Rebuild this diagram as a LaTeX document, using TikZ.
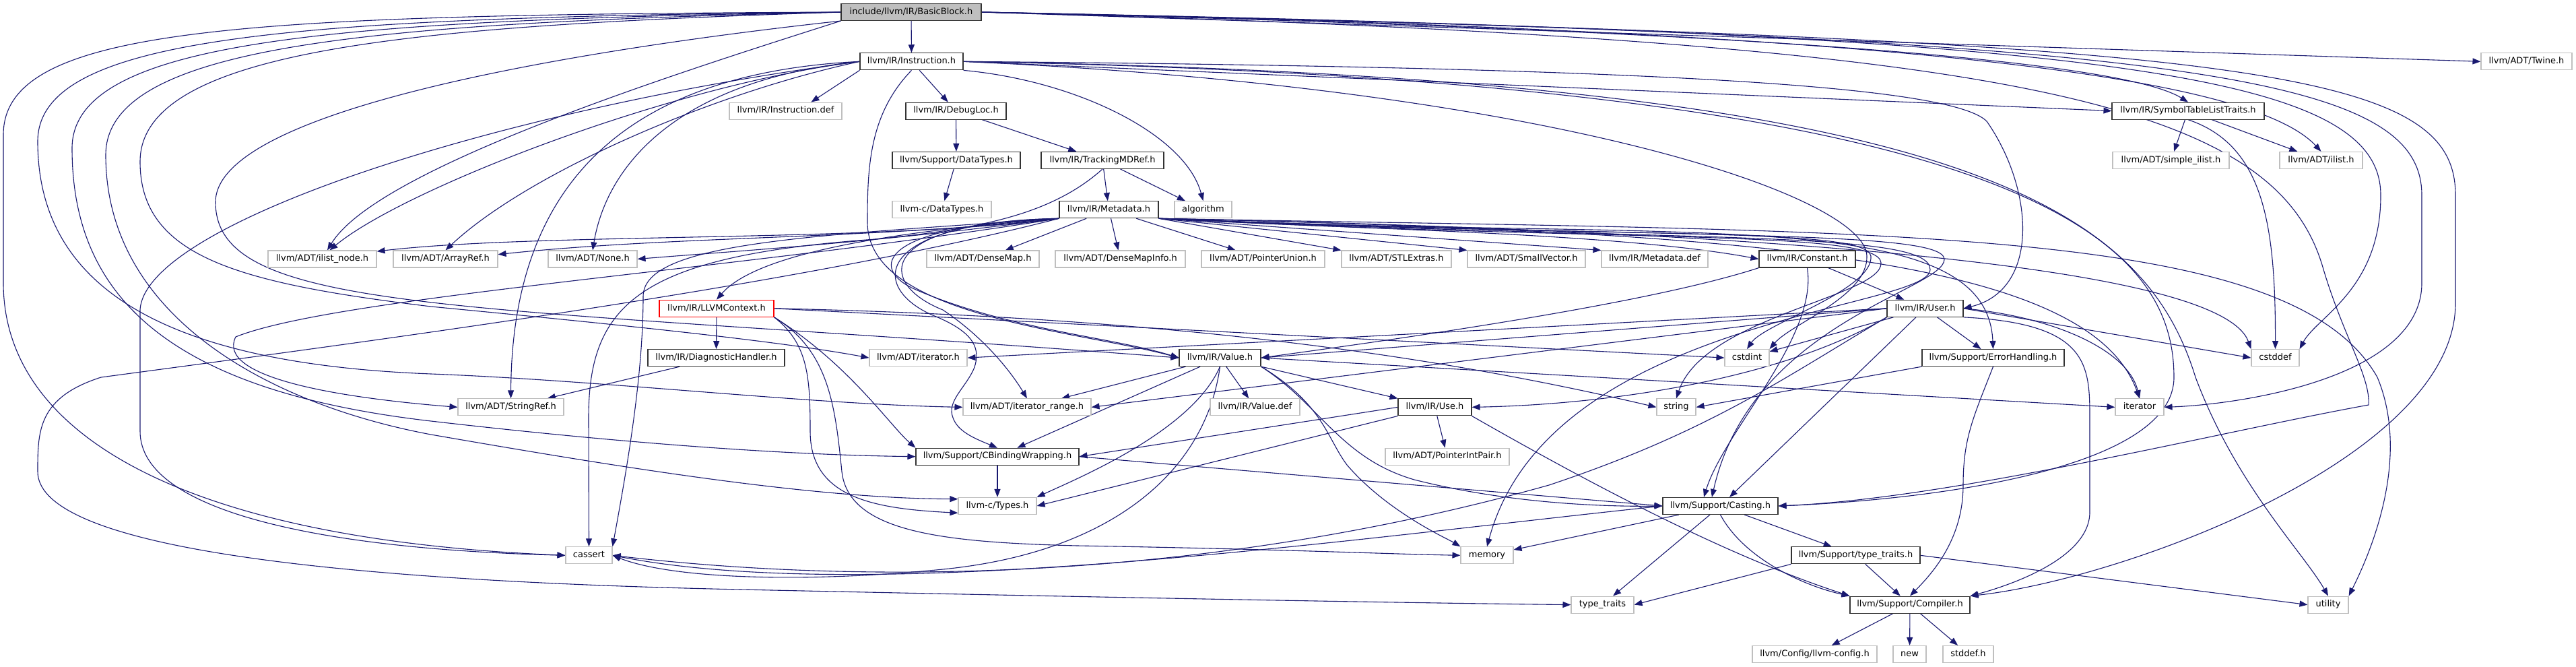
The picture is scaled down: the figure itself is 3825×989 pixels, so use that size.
\documentclass[tikz,border=0pt]{standalone}
\usepackage{fontspec}
\setmainfont{DejaVu Sans}
\usetikzlibrary{arrows.meta, backgrounds}
\definecolor{edgeblue}{HTML}{191970}
\definecolor{boxgray}{HTML}{BFBFBF}
\tikzset{
  incbox/.style   = {rectangle, line width=1.1pt, minimum height=25pt, inner sep=0pt,
                     text height=9.5pt, text depth=3pt, font=\fontsize{13pt}{15pt}\selectfont},
  rootfile/.style = {incbox, draw=black!80, fill=boxgray},
  docfile/.style  = {incbox, draw=black!80, fill=white},
  extfile/.style  = {incbox, draw=boxgray, fill=white},
  cutfile/.style  = {incbox, draw=red, fill=white},
  dep/.style      = {draw=edgeblue, line width=1.1pt, -{Triangle[length=12pt, width=9pt]}},
}

\begin{document}
\begin{tikzpicture}[x=1pt, y=-1pt]
\useasboundingbox (0,0) rectangle (3825,989);

% Row 1 and 2: the file itself and its first includes
\node (bb)       [rootfile, minimum width=208pt] at (1353,18)     {include/llvm/IR/BasicBlock.h};
\node (inst)     [docfile, minimum width=153pt]  at (1353.5,91.3) {llvm/IR/Instruction.h};
\node (twine)    [extfile, minimum width=135pt]  at (3751.5,91.3) {llvm/ADT/Twine.h};

% Row 3 to 5
\node (instdef)  [extfile, minimum width=167pt]  at (1166.5,164.6) {llvm/IR/Instruction.def};
\node (debugloc) [docfile, minimum width=149pt]  at (1419.5,164.6) {llvm/IR/DebugLoc.h};
\node (stlt)     [docfile, minimum width=226pt]  at (3249,164.6)   {llvm/IR/SymbolTableListTraits.h};
\node (suppdt)   [docfile, minimum width=190pt]  at (1420,237.9)   {llvm/Support/DataTypes.h};
\node (tmdref)   [docfile, minimum width=182pt]  at (1637,237.9)   {llvm/IR/TrackingMDRef.h};
\node (simpleilist) [extfile, minimum width=173pt] at (3223.5,237.9) {llvm/ADT/simple\_ilist.h};
\node (ilisth)   [extfile, minimum width=123pt]  at (3446.5,237.9) {llvm/ADT/ilist.h};
\node (cdt)      [extfile, minimum width=147pt]  at (1398.5,311.2) {llvm-c/DataTypes.h};
\node (metadata) [docfile, minimum width=147pt]  at (1646.5,311.2) {llvm/IR/Metadata.h};
\node (algorithm) [extfile, minimum width=85pt]  at (1786.5,311.2) {algorithm};

% Row 6
\node (ilistnode) [extfile, minimum width=161pt] at (478.5,384.5)  {llvm/ADT/ilist\_node.h};
\node (arrayref)  [extfile, minimum width=155pt] at (661.5,384.5)  {llvm/ADT/ArrayRef.h};
\node (none)      [extfile, minimum width=132pt] at (880,384.5)    {llvm/ADT/None.h};
\node (densemap)  [extfile, minimum width=167pt] at (1459.5,384.5) {llvm/ADT/DenseMap.h};
\node (densemapinfo) [extfile, minimum width=193pt] at (1663.5,384.5) {llvm/ADT/DenseMapInfo.h};
\node (pointerunion) [extfile, minimum width=183pt] at (1875.5,384.5) {llvm/ADT/PointerUnion.h};
\node (stlextras) [extfile, minimum width=163pt] at (2073.5,384.5) {llvm/ADT/STLExtras.h};
\node (smallvector) [extfile, minimum width=175pt] at (2266.5,384.5) {llvm/ADT/SmallVector.h};
\node (metadatadef) [extfile, minimum width=158pt] at (2457,384.5) {llvm/IR/Metadata.def};
\node (constant)  [docfile, minimum width=143pt] at (2683.5,384.5) {llvm/IR/Constant.h};

% Row 7 and 8
\node (llvmctx)   [cutfile, minimum width=170pt] at (1064,457.8)   {llvm/IR/LLVMContext.h};
\node (user)      [docfile, minimum width=113pt] at (2858.5,457.8) {llvm/IR/User.h};
\node (diaghandler) [docfile, minimum width=203pt] at (1063.5,531.1) {llvm/IR/DiagnosticHandler.h};
\node (iteratorh) [extfile, minimum width=145pt] at (1363.5,531.1) {llvm/ADT/iterator.h};
\node (value)     [docfile, minimum width=121pt] at (1811.5,531.1) {llvm/IR/Value.h};
\node (cstdint)   [extfile, minimum width=66pt]  at (2594,531.1)   {cstdint};
\node (errhandling) [docfile, minimum width=211pt] at (2959.5,531.1) {llvm/Support/ErrorHandling.h};
\node (cstddef)   [extfile, minimum width=71pt]  at (3378.5,531.1) {cstddef};

% Row 9 and 10
\node (stringref) [extfile, minimum width=157pt] at (758.5,604.4)  {llvm/ADT/StringRef.h};
\node (iterrange) [extfile, minimum width=190pt] at (1525,604.4)   {llvm/ADT/iterator\_range.h};
\node (valuedef)  [extfile, minimum width=133pt] at (1863.5,604.4) {llvm/IR/Value.def};
\node (use)       [docfile, minimum width=109pt] at (2130.5,604.4) {llvm/IR/Use.h};
\node (string)    [extfile, minimum width=58pt]  at (2489,604.4)   {string};
\node (iterator)  [extfile, minimum width=72pt]  at (3177,604.4)   {iterator};
\node (cbw)       [docfile, minimum width=242pt] at (1481,677.7)   {llvm/Support/CBindingWrapping.h};
\node (pip)       [extfile, minimum width=184pt] at (2149,677.7)   {llvm/ADT/PointerIntPair.h};

% Row 11 to 14
\node (types)     [extfile, minimum width=116pt] at (1481,751)     {llvm-c/Types.h};
\node (casting)   [docfile, minimum width=171pt] at (2554.5,751)   {llvm/Support/Casting.h};
\node (cassert)   [extfile, minimum width=69pt]  at (874.5,824.3)  {cassert};
\node (memory)    [extfile, minimum width=78pt]  at (2208,824.3)   {memory};
\node (supptt)    [docfile, minimum width=191pt] at (2755.5,824.3) {llvm/Support/type\_traits.h};
\node (typetraits) [extfile, minimum width=93pt] at (2379.5,897.6) {type\_traits};
\node (compiler)  [docfile, minimum width=178pt] at (2836,897.6)   {llvm/Support/Compiler.h};
\node (utility)   [extfile, minimum width=60pt]  at (3457,897.6)   {utility};
\node (llvmconfig) [extfile, minimum width=185pt] at (2694.5,970.9) {llvm/Config/llvm-config.h};
\node (new)       [extfile, minimum width=49pt]  at (2835.5,970.9) {new};
\node (stddef)    [extfile, minimum width=75pt]  at (2922.5,970.9) {stddef.h};

\begin{scope}[on background layer]
% BasicBlock.h, the long loops round the left and the right
\draw [dep] (bb) -- (inst);
\draw [dep] (bb.east) -- (twine.west);
\draw [dep] (bb.east) .. controls (2600,45) and (3150,90) .. (stlt.north);
\draw [dep] (bb.east) .. controls (2800,45) and (3340,110) .. (ilisth.north);
\draw [dep] (bb.east) .. controls (3150,50) and (3535,110) .. (3535,290) .. controls (3535,430) and (3440,470) .. (cstddef.north east);
\draw [dep] (bb.east) .. controls (3250,55) and (3596,110) .. (3596,290) -- (3596,420) .. controls (3596,560) and (3330,600) .. (iterator.east);
\draw [dep] (bb.east) .. controls (3350,60) and (3646,100) .. (3646,290) -- (3646,450) .. controls (3646,680) and (3150,860) .. (compiler.north east);
\draw [dep] (bb.east) .. controls (3000,60) and (3380,150) .. (3450,400) .. controls (3480,500) and (3520,560) .. (3517,601) .. controls (3300,640) and (2900,740) .. (casting.east);
\draw [dep] (bb.south west) .. controls (800,80) and (320,170) .. (320,300) .. controls (320,470) and (700,450) .. (value.west);
\draw [dep] (bb.south west) .. controls (1000,110) and (560,250) .. (ilistnode.60);
\draw [dep] (bb.west) .. controls (350,22) and (5,40) .. (5,200) -- (5,420) .. controls (5,640) and (260,800) .. (cassert.west);
\draw [dep] (bb.west) .. controls (420,26) and (56,55) .. (56,210) .. controls (56,430) and (250,540) .. (640,555) .. controls (900,565) and (1200,600) .. (iterrange.west);
\draw [dep] (bb.west) .. controls (490,30) and (107,60) .. (107,220) .. controls (107,440) and (250,580) .. (640,625) .. controls (900,655) and (1150,675) .. (cbw.west);
\draw [dep] (bb.west) .. controls (560,34) and (157,65) .. (157,230) .. controls (157,470) and (400,600) .. (640,645) .. controls (900,690) and (1200,740) .. (types.170);
\draw [dep] (bb.west) .. controls (630,38) and (208,70) .. (208,240) .. controls (208,380) and (350,420) .. (640,455) .. controls (900,480) and (1150,505) .. (iteratorh.west);

% Instruction.h
\draw [dep] (inst.south west) -- (instdef.19);
\draw [dep] (inst) -- (debugloc);
\draw [dep] (inst.west) .. controls (1000,125) and (600,280) .. (ilistnode.50);
\draw [dep] (inst.west) .. controls (1050,140) and (780,260) .. (arrayref.north);
\draw [dep] (inst.west) .. controls (1000,120) and (900,250) .. (none.north);
\draw [dep] (inst.west) .. controls (900,110) and (760,300) .. (stringref.north);
\draw [dep] (inst.west) .. controls (750,160) and (215,330) .. (208,460) -- (208,640) .. controls (208,760) and (480,815) .. (cassert.west);
\draw [dep] (inst.south east) .. controls (1600,120) and (1760,200) .. (algorithm.north);
\draw [dep] (inst.east) -- (stlt.west);
\draw [dep] (inst.east) .. controls (2500,100) and (2900,130) .. (2950,180) .. controls (3020,280) and (3030,430) .. (user.east);
\draw [dep] (inst.south) .. controls (1290,170) and (1288,250) .. (1288,330) .. controls (1288,470) and (1600,490) .. (value.west);
\draw [dep] (inst.east) .. controls (2300,130) and (2770,290) .. (2772,380) .. controls (2774,440) and (2660,480) .. (cstdint.north east);
\draw [dep] (inst.east) .. controls (3000,120) and (3228,350) .. (3228,560) .. controls (3228,690) and (2900,740) .. (casting.east);
\draw [dep] (inst.east) .. controls (2900,115) and (3180,300) .. (3260,560) .. controls (3320,720) and (3420,820) .. (utility.north);

% DebugLoc.h, DataTypes.h, TrackingMDRef.h, SymbolTableListTraits.h
\draw [dep] (debugloc) -- (suppdt);
\draw [dep] (debugloc) -- (tmdref);
\draw [dep] (suppdt) -- (cdt);
\draw [dep] (tmdref) -- (metadata);
\draw [dep] (tmdref) -- (algorithm);
\draw [dep] (tmdref.south) .. controls (1560,320) and (1450,340) .. (1300,355) .. controls (950,380) and (874,450) .. (874,620) -- (cassert.north);
\draw [dep] (stlt) -- (simpleilist);
\draw [dep] (stlt) -- (ilisth);
\draw [dep] (stlt.south) .. controls (3360,215) and (3379,330) .. (cstddef.north);

% Metadata.h, to the left
\draw [dep] (metadata.south west) .. controls (1300,360) and (800,345) .. (ilistnode.8);
\draw [dep] (metadata.south west) .. controls (1300,355) and (1000,350) .. (arrayref.5);
\draw [dep] (metadata.south west) .. controls (1300,360) and (1100,372) .. (none.east);
\draw [dep] (metadata.south west) .. controls (1100,400) and (500,440) .. (350,500) .. controls (320,560) and (500,590) .. (stringref.west);
\draw [dep] (metadata.south west) .. controls (1200,350) and (955,360) .. (955,440) .. controls (955,560) and (930,700) .. (cassert.north east);
\draw [dep] (metadata.south west) .. controls (1300,345) and (1120,380) .. (llvmctx.north);
\draw [dep] (metadata.south west) .. controls (1300,330) and (1300,420) .. (1400,460) .. controls (1460,500) and (1500,550) .. (iterrange.north);
\draw [dep] (metadata.south west) .. controls (1290,330) and (1290,430) .. (1390,470) .. controls (1450,495) and (1455,520) .. (1447,545) .. controls (1435,575) and (1405,595) .. (1415,620) .. controls (1422,640) and (1445,650) .. (cbw.north);
\draw [dep] (metadata.south west) .. controls (1300,335) and (1290,400) .. (1360,430) .. controls (1500,490) and (1650,500) .. (value.west);
\draw [dep] (metadata.south west) .. controls (1200,420) and (600,500) .. (150,560) .. controls (56,590) and (56,640) .. (56,700) .. controls (56,800) and (400,860) .. (1100,875) .. controls (1700,888) and (2100,895) .. (typetraits.west);
\draw [dep] (metadata) -- (densemap);
\draw [dep] (metadata) -- (densemapinfo);
\draw [dep] (metadata) -- (pointerunion);

% Metadata.h, to the right (below algorithm)
\draw [dep] (metadata.south east) -- (stlextras.north west);
\draw [dep] (metadata.south east) -- (smallvector.north west);
\draw [dep] (metadata.south east) -- (metadatadef.north west);
\draw [dep] (metadata.south east) .. controls (2000,340) and (2400,345) .. (constant.west);
\draw [dep] (metadata.south east) .. controls (2500,360) and (2950,300) .. (errhandling.north);
\draw [dep] (metadata.south east) .. controls (2400,360) and (2790,340) .. (2793,390) .. controls (2796,440) and (2530,470) .. (string.north);
\draw [dep] (metadata.south east) .. controls (2400,355) and (2770,335) .. (2778,380) .. controls (2782,430) and (2620,480) .. (cstdint.north);
\draw [dep] (metadata.south east) .. controls (2500,360) and (2866,340) .. (2866,400) .. controls (2866,460) and (2300,470) .. (memory.north);
\draw [dep] (metadata.south east) .. controls (2500,355) and (2887,340) .. (2887,385) .. controls (2887,430) and (2600,480) .. (casting.134);
\draw [dep] (metadata.south east) .. controls (2600,345) and (3100,380) .. (iterator.north);
\draw [dep] (metadata.south east) .. controls (2700,345) and (3300,400) .. (cstddef.north west);
\draw [dep] (metadata.south east) .. controls (2800,345) and (3400,330) .. (3530,560) .. controls (3580,680) and (3520,820) .. (utility.north east);

% Constant.h and LLVMContext.h
\draw [dep] (constant) -- (user);
\draw [dep] (constant.south west) .. controls (2450,450) and (2100,500) .. (value.east);
\draw [dep] (constant.south) .. controls (2700,500) and (2560,640) .. (casting.152);
\draw [dep] (llvmctx) -- (diaghandler);
\draw [dep] (llvmctx.south east) .. controls (1200,510) and (1203,560) .. (1203,640) .. controls (1203,740) and (1300,755) .. (types.190);
\draw [dep] (llvmctx.south east) .. controls (1260,540) and (1320,630) .. (cbw.north west);
\draw [dep] (llvmctx.east) -- (cstdint.west);
\draw [dep] (llvmctx.east) .. controls (1700,470) and (2100,520) .. (string.west);
\draw [dep] (llvmctx.south east) .. controls (1230,520) and (1240,600) .. (1250,700) .. controls (1260,790) and (1400,805) .. (1600,810) .. controls (1900,815) and (2050,822) .. (memory.west);
\draw [dep] (diaghandler) -- (stringref);

% User.h
\draw [dep] (user.west) -- (iteratorh.east);
\draw [dep] (user.west) -- (iterrange.east);
\draw [dep] (user.south west) .. controls (2650,560) and (2400,600) .. (use.east);
\draw [dep] (user.west) -- (value.east);
\draw [dep] (user) -- (casting);
\draw [dep] (user.south east) .. controls (3100,480) and (3103,540) .. (3103,620) -- (3103,760) .. controls (3103,830) and (2980,870) .. (compiler.north east);
\draw [dep] (user) -- (errhandling);
\draw [dep] (user.south west) .. controls (2650,560) and (2540,640) .. (2300,720) .. controls (1800,860) and (1300,870) .. (cassert.east);
\draw [dep] (user.east) -- (cstddef.west);
\draw [dep] (user) -- (cstdint);
\draw [dep] (user.east) .. controls (3050,470) and (3160,520) .. (iterator.north);

% Value.h and Use.h
\draw [dep] (value.south) .. controls (1770,640) and (1600,710) .. (types.north east);
\draw [dep] (value) -- (iterrange);
\draw [dep] (value.south east) -- (use.north west);
\draw [dep] (value) -- (cbw);
\draw [dep] (value.south east) .. controls (1960,600) and (1990,680) .. (2100,712) .. controls (2250,750) and (2400,752) .. (casting.west);
\draw [dep] (value.south east) .. controls (1965,600) and (1970,650) .. (2000,690) .. controls (2060,760) and (2150,800) .. (memory.north west);
\draw [dep] (value.south) .. controls (1790,700) and (1650,820) .. (1400,845) .. controls (1200,865) and (1000,860) .. (cassert.east);
\draw [dep] (value.east) -- (iterator.west);
\draw [dep] (value) -- (valuedef);
\draw [dep] (use.south west) -- (types.east);
\draw [dep] (use) -- (pip);
\draw [dep] (use.west) -- (cbw.east);
\draw [dep] (use.south east) .. controls (2400,740) and (2580,830) .. (compiler.north west);

% ErrorHandling.h, CBindingWrapping.h, Casting.h
\draw [dep] (errhandling.south west) -- (string.east);
\draw [dep] (errhandling.south) .. controls (2930,620) and (2915,650) .. (2915,720) .. controls (2915,800) and (2870,850) .. (compiler.north);
\draw [dep] (cbw) -- (types);
\draw [dep] (cbw.east) -- (casting.west);
\draw [dep] (casting) -- (supptt);
\draw [dep] (casting.south) .. controls (2590,830) and (2680,870) .. (compiler.north west);
\draw [dep] (casting.west) .. controls (2000,800) and (1300,900) .. (cassert.east);
\draw [dep] (casting) -- (memory);
\draw [dep] (casting) -- (typetraits);

% type_traits.h and Compiler.h
\draw [dep] (supptt) -- (compiler);
\draw [dep] (supptt.south west) -- (typetraits.east);
\draw [dep] (supptt.east) -- (utility.west);
\draw [dep] (compiler) -- (llvmconfig);
\draw [dep] (compiler) -- (new);
\draw [dep] (compiler) -- (stddef);
\end{scope}

\end{tikzpicture}
\end{document}
